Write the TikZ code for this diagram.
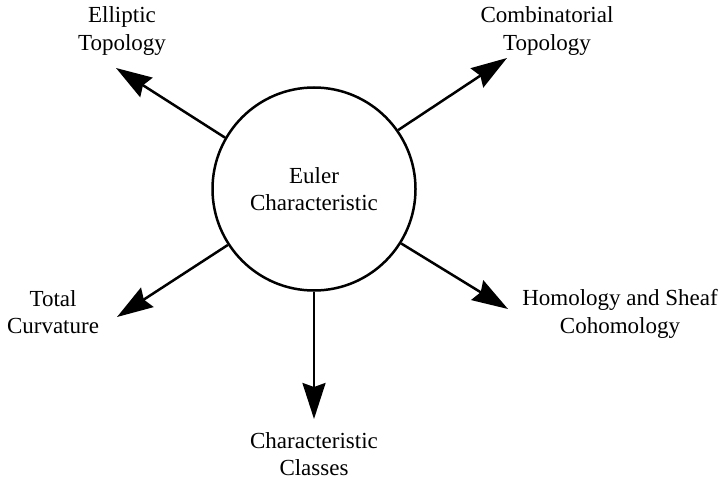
\documentclass[tikz,border=0pt]{standalone}
\usepackage{fontspec}
\setmainfont{Liberation Serif}
\usetikzlibrary{arrows.meta}
\begin{document}
\begin{tikzpicture}[x=1pt,y=-1pt,
  lbl/.style={align=center,inner sep=0pt,font=\fontsize{23}{27.5}\selectfont},
  arr/.style={line width=2.5pt,-{Stealth[length=36pt,width=23pt,inset=4pt]}}]
\useasboundingbox (0,0) rectangle (719,481);
\node[circle,draw,line width=2.5pt,minimum size=203pt,inner sep=0pt] (e) at (314,189) {};
\node[lbl] (et) at (314,189) {Euler\\Characteristic};
\node[lbl] (ell) at (122,31) {Elliptic\\Topology};
\node[lbl] (com) at (547,31) {Combinatorial\\Topology};
\node[lbl] (tot) at (53,312) {Total\\Curvature};
\node[lbl] (hom) at (620,314) {Homology and Sheaf\\Cohomology};
\node[lbl] (cha) at (314,454) {Characteristic\\Classes};
\coordinate (t1) at (116,68);
\coordinate (t2) at (507,58);
\coordinate (t3) at (117,317);
\coordinate (t4) at (314,419);
\coordinate (t5) at (508,309);
\draw[arr] (e.150) -- (t1);
\draw[arr] (e.35) -- (t2);
\draw[arr] (e.213) -- (t3);
\draw[arr] (e.270) -- (t4);
\draw[arr] (e.328) -- (t5);
\end{tikzpicture}
\end{document}
